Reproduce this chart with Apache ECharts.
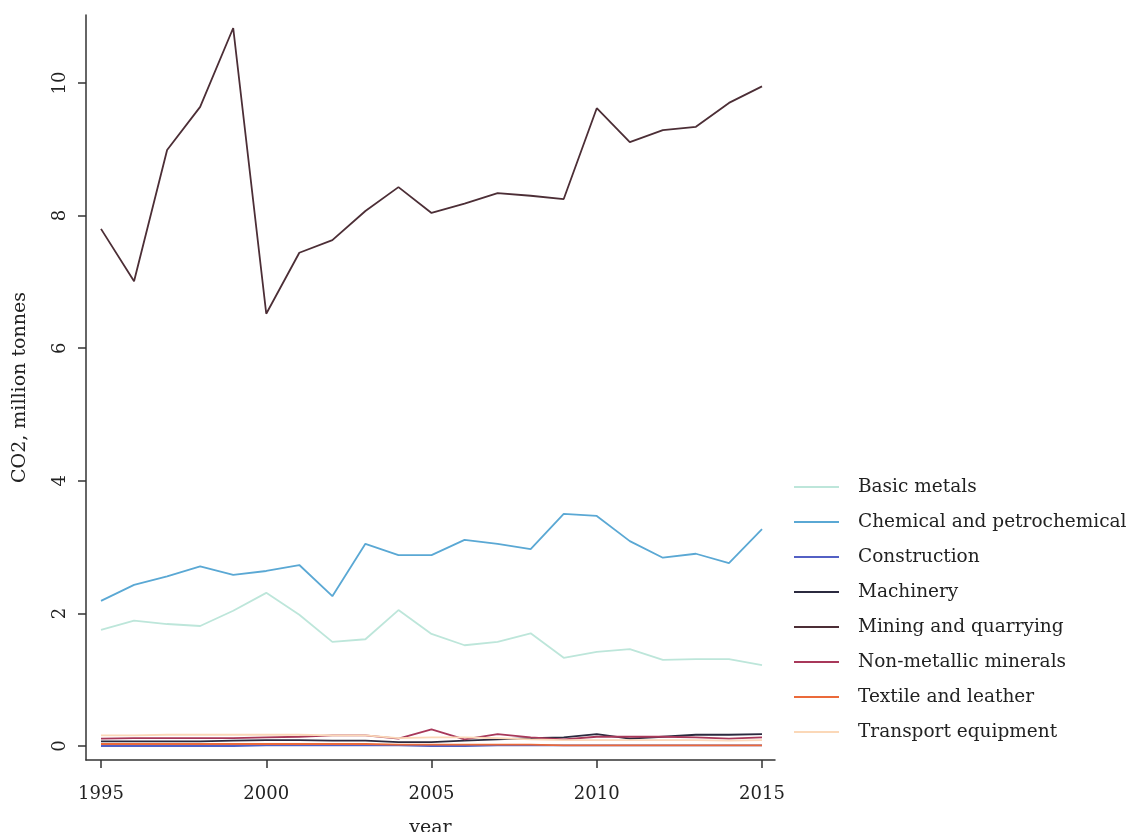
<!DOCTYPE html>
<html>
<head>
<meta charset="utf-8">
<script src="https://cdn.jsdelivr.net/npm/echarts@6/dist/echarts.min.js"></script>
<style>
  html, body { margin: 0; padding: 0; background: #fff; }
  #chart { width: 1134px; height: 832px; }
</style>
</head>
<body>
<div id="chart"></div>
<script>
// data
const years = [1995, 1996, 1997, 1998, 1999, 2000, 2001, 2002, 2003, 2004, 2005,
  2006, 2007, 2008, 2009, 2010, 2011, 2012, 2013, 2014, 2015]
const xTicks = [1995, 2000, 2005, 2010, 2015]
const yTicks = [0, 2, 4, 6, 8, 10]

const basicMetals = [1.75, 1.89, 1.84, 1.81, 2.04, 2.31, 1.98, 1.57, 1.61, 2.05, 1.69,
  1.52, 1.57, 1.70, 1.33, 1.42, 1.46, 1.30, 1.31, 1.31, 1.22]
const chemical = [2.19, 2.43, 2.56, 2.71, 2.58, 2.64, 2.73, 2.26, 3.05, 2.88, 2.88,
  3.11, 3.05, 2.97, 3.50, 3.47, 3.09, 2.84, 2.90, 2.76, 3.27]
const construction = [0.00, 0.00, 0.00, 0.00, 0.00, 0.01, 0.01, 0.01, 0.01, 0.01, 0.00,
  0.00, 0.01, 0.01, 0.01, 0.01, 0.01, 0.01, 0.01, 0.01, 0.01]
const machinery = [0.07, 0.07, 0.07, 0.07, 0.08, 0.09, 0.09, 0.08, 0.08, 0.06, 0.06,
  0.08, 0.10, 0.12, 0.13, 0.18, 0.11, 0.14, 0.17, 0.17, 0.18]
const mining = [7.80, 7.01, 8.99, 9.64, 10.83, 6.52, 7.44, 7.63, 8.07, 8.43, 8.04,
  8.18, 8.34, 8.30, 8.25, 9.62, 9.11, 9.29, 9.34, 9.70, 9.95]
const nonMetallic = [0.11, 0.12, 0.12, 0.12, 0.12, 0.13, 0.14, 0.16, 0.16, 0.11, 0.25,
  0.10, 0.18, 0.13, 0.10, 0.14, 0.14, 0.14, 0.13, 0.11, 0.13]
const textile = [0.03, 0.03, 0.03, 0.03, 0.03, 0.03, 0.03, 0.03, 0.03, 0.02, 0.02,
  0.02, 0.02, 0.02, 0.01, 0.01, 0.01, 0.01, 0.01, 0.01, 0.01]
const transport = [0.16, 0.16, 0.17, 0.17, 0.17, 0.17, 0.17, 0.16, 0.16, 0.12, 0.13,
  0.13, 0.12, 0.10, 0.09, 0.09, 0.09, 0.09, 0.09, 0.08, 0.09]

const seriesNames = ['Basic metals', 'Chemical and petrochemical', 'Construction', 'Machinery',
  'Mining and quarrying', 'Non-metallic minerals', 'Textile and leather', 'Transport equipment']
const seriesData = [basicMetals, chemical, construction, machinery, mining, nonMetallic, textile, transport]
const colors = ['#bde6da', '#5aa8d4', '#5360c4', '#2b2a3f', '#4c2e36', '#a8385a', '#eb6a3a', '#fbd8b8']

const font = 'DejaVu Serif'
const axisColor = '#333'

const chart = echarts.init(document.getElementById('chart'))

const series = seriesNames.map((name, i) => ({
  name: name,
  type: 'line',
  data: years.map((y, j) => [y, seriesData[i][j]]),
  symbol: 'none',
  lineStyle: { width: 1.8, color: colors[i] },
  itemStyle: { color: colors[i] },
  animation: false
}))

chart.setOption({
  backgroundColor: '#fff',
  grid: { left: 86, right: 359, top: 15, bottom: 72, containLabel: false, outerBoundsMode: 'none' },
  legend: {
    orient: 'vertical',
    left: 794,
    top: 477,
    padding: 0,
    itemWidth: 45,
    itemHeight: 20,
    itemGap: 15,
    icon: 'path://M0,9 L45,9 L45,11 L0,11 Z',
    data: seriesNames,
    textStyle: { fontFamily: font, fontSize: 18.5, color: '#222', lineHeight: 20, padding: [0, 0, 0, 14] }
  },
  xAxis: {
    type: 'value',
    min: 1994.546,
    max: 2015.393,
    name: 'year',
    nameLocation: 'middle',
    nameGap: 59,
    nameTextStyle: { fontFamily: font, fontSize: 19, color: '#222' },
    axisLine: { onZero: false, lineStyle: { color: axisColor, width: 1.5 } },
    axisTick: { show: true, length: 8, customValues: xTicks, lineStyle: { color: axisColor, width: 1.5 } },
    axisLabel: { customValues: xTicks, margin: 25, fontFamily: font, fontSize: 18, color: '#222',
      formatter: v => String(v) },
    splitLine: { show: false }
  },
  yAxis: {
    type: 'value',
    min: -0.211,
    max: 11.026,
    name: 'CO2, million tonnes',
    nameLocation: 'middle',
    nameGap: 56,
    nameRotate: 90,
    nameTextStyle: { fontFamily: font, fontSize: 19, color: '#222' },
    axisLine: { show: true, onZero: false, lineStyle: { color: axisColor, width: 1.5 } },
    axisTick: { show: true, length: 8, customValues: yTicks, lineStyle: { color: axisColor, width: 1.5 } },
    axisLabel: { customValues: yTicks, rotate: 90, margin: 17, fontFamily: font, fontSize: 18, color: '#222',
      formatter: v => String(v) },
    splitLine: { show: false }
  },
  series: series
})
</script>
</body>
</html>
